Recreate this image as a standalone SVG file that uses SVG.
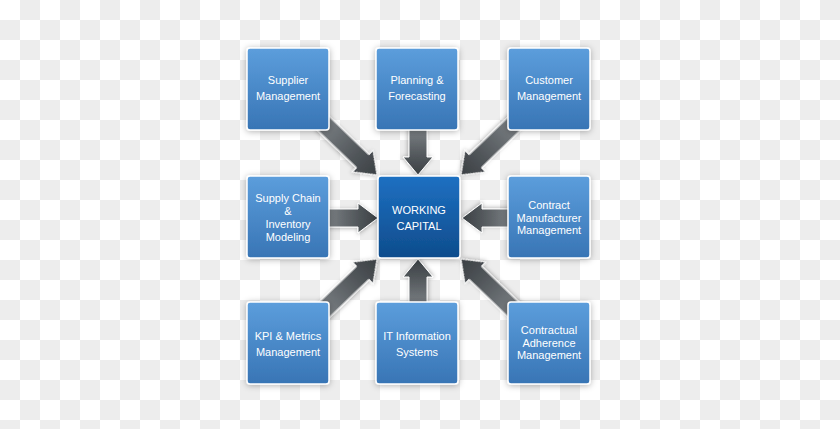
<svg xmlns="http://www.w3.org/2000/svg" width="840" height="429" viewBox="0 0 840 429">
<defs>
<pattern id="chk" width="40" height="40" patternUnits="userSpaceOnUse">
<rect width="40" height="40" fill="#ffffff"/>
<rect x="20" y="0" width="20" height="20" fill="#ededed"/>
<rect x="0" y="20" width="20" height="20" fill="#ededed"/>
</pattern>
<linearGradient id="gBox" x1="0" y1="0" x2="0" y2="1">
<stop offset="0" stop-color="#5c9edc"/>
<stop offset="1" stop-color="#3875b5"/>
</linearGradient>
<linearGradient id="gCenter" x1="0" y1="0" x2="0" y2="1">
<stop offset="0" stop-color="#1e70c2"/>
<stop offset="1" stop-color="#0e4c8c"/>
</linearGradient>
<linearGradient id="gArrow" x1="0" y1="0" x2="1" y2="0">
<stop offset="0" stop-color="#7c8185"/>
<stop offset="0.6" stop-color="#52575b"/>
<stop offset="1" stop-color="#3b4044"/>
</linearGradient>
<filter id="sh" x="-30%" y="-30%" width="160%" height="160%">
<feDropShadow dx="0" dy="1" stdDeviation="3" flood-color="#000" flood-opacity="0.3"/>
</filter>
<filter id="ash" x="-30%" y="-50%" width="160%" height="200%">
<feDropShadow dx="0" dy="1" stdDeviation="2" flood-color="#000" flood-opacity="0.3"/>
</filter>
</defs>
<style>
.box{fill:url(#gBox);stroke:#ffffff;stroke-width:1.5;filter:url(#sh)}
.center{fill:url(#gCenter);stroke:#ffffff;stroke-width:1.5;filter:url(#sh)}
.arr{fill:url(#gArrow);stroke:#ffffff;stroke-width:1;filter:url(#ash)}
text{font-family:"Liberation Sans",Arial,sans-serif;font-size:11px;fill:#ffffff;text-anchor:middle}
</style>
<rect width="840" height="429" fill="url(#chk)"/>
<g id="connectors">
<path class="arr" transform="translate(322,122) rotate(43.9)" d="M0,-9 L56.4,-9 L56.4,-15 L76.4,0 L56.4,15 L56.4,9 L0,9 Z"/>
<path class="arr" transform="translate(418,128) rotate(90)" d="M0,-9 L29,-9 L29,-15 L47,0 L29,15 L29,9 L0,9 Z"/>
<path class="arr" transform="translate(516,122) rotate(136.1)" d="M0,-9 L56.4,-9 L56.4,-15 L76.4,0 L56.4,15 L56.4,9 L0,9 Z"/>
<path class="arr" transform="translate(327,218)" d="M0,-9 L31,-9 L31,-15 L51,0 L31,15 L31,9 L0,9 Z"/>
<path class="arr" transform="translate(511,218) rotate(180)" d="M0,-9 L29,-9 L29,-15 L49,0 L29,15 L29,9 L0,9 Z"/>
<path class="arr" transform="translate(322,312) rotate(-43.9)" d="M0,-9 L56.4,-9 L56.4,-15 L76.4,0 L56.4,15 L56.4,9 L0,9 Z"/>
<path class="arr" transform="translate(418,306) rotate(-90)" d="M0,-9 L29,-9 L29,-15 L47,0 L29,15 L29,9 L0,9 Z"/>
<path class="arr" transform="translate(516,312) rotate(-136.1)" d="M0,-9 L56.4,-9 L56.4,-15 L76.4,0 L56.4,15 L56.4,9 L0,9 Z"/>
</g>
<g id="supplier">
<rect class="box" x="247" y="48" width="82" height="82" rx="3"/>
<text x="288" y="84">Supplier</text>
<text x="288" y="100">Management</text>
</g>
<g id="planning">
<rect class="box" x="376" y="48" width="82" height="82" rx="3"/>
<text x="417" y="84">Planning &amp;</text>
<text x="417" y="100">Forecasting</text>
</g>
<g id="customer">
<rect class="box" x="508" y="48" width="82" height="82" rx="3"/>
<text x="549" y="84">Customer</text>
<text x="549" y="100">Management</text>
</g>
<g id="supplychain">
<rect class="box" x="247" y="176" width="82" height="82" rx="3"/>
<text x="288" y="202">Supply Chain</text>
<text x="288" y="215">&amp;</text>
<text x="288" y="228">Inventory</text>
<text x="288" y="241">Modeling</text>
</g>
<g id="workingcapital">
<rect class="center" x="378" y="176" width="82" height="82" rx="3"/>
<text x="419" y="214">WORKING</text>
<text x="419" y="230">CAPITAL</text>
</g>
<g id="contractmanufacturer">
<rect class="box" x="508" y="176" width="82" height="82" rx="3"/>
<text x="549" y="209">Contract</text>
<text x="549" y="221.5">Manufacturer</text>
<text x="549" y="234">Management</text>
</g>
<g id="kpi">
<rect class="box" x="247" y="302" width="82" height="82" rx="3"/>
<text x="288" y="340">KPI &amp; Metrics</text>
<text x="288" y="355.5">Management</text>
</g>
<g id="itinfo">
<rect class="box" x="376" y="302" width="82" height="82" rx="3"/>
<text x="417" y="340">IT Information</text>
<text x="417" y="355.5">Systems</text>
</g>
<g id="contractual">
<rect class="box" x="508" y="302" width="82" height="82" rx="3"/>
<text x="549" y="334">Contractual</text>
<text x="549" y="346.5">Adherence</text>
<text x="549" y="359">Management</text>
</g>
</svg>
